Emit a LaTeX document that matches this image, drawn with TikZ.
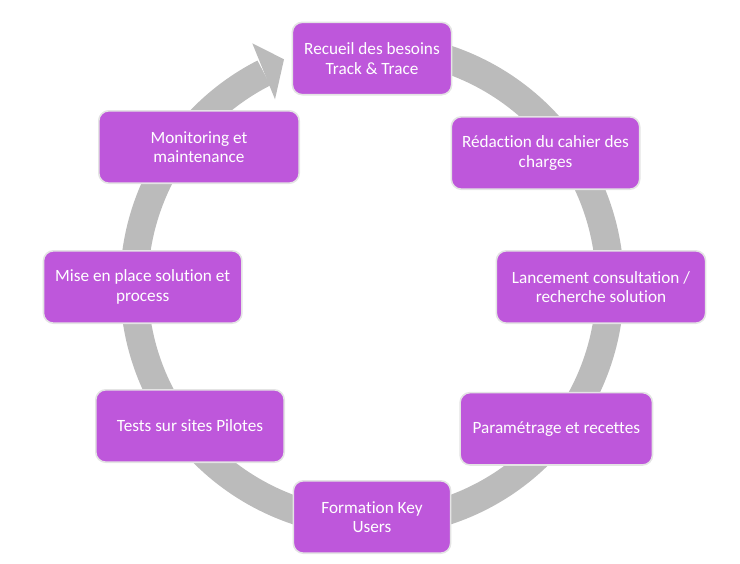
\documentclass[tikz,border=0pt]{standalone}
\usepackage{fontspec}
\setmainfont{Carlito}[Ligatures=CommonOff]
\definecolor{boxfill}{RGB}{190,87,219}
\definecolor{boxline}{RGB}{228,228,228}
\definecolor{ringgrey}{RGB}{187,187,187}
\begin{document}
\begin{tikzpicture}[x=0.75pt,y=-0.75pt,
  stepbox/.style={draw=boxline, line width=1.2pt, fill=boxfill, rounded corners=7.5pt,
    text=white, align=center, font=\fontsize{12.9pt}{14.6pt}\selectfont,
    inner sep=0pt, minimum height=54.3pt}]
\useasboundingbox (0,0) rectangle (740,564);
% circular arrow
\draw[ringgrey, line width=21pt] ([shift={(372,285)}]-100:238) arc[start angle=-100, end angle=243, radius=238];
\fill[ringgrey] (252.3,43.3) -- (284,59.3) -- (275,99.3) -- cycle;
% steps
\node[stepbox, minimum width=119.5pt] (n1) at (372,58.5) {Recueil des besoins\\Track \& Trace};
\node[stepbox, minimum width=141.3pt] (n2) at (545.5,153) {Rédaction du cahier des\\charges};
\node[stepbox, minimum width=157pt] (n3) at (601,287) {Lancement consultation /\\recherche solution};
\node[stepbox, minimum width=144.3pt] (n4) at (556.3,428.8) {Paramétrage et recettes};
\node[stepbox, minimum width=118pt] (n5) at (372,517) {Formation Key\\Users};
\node[stepbox, minimum width=141.3pt] (n6) at (190,426) {Tests sur sites Pilotes};
\node[stepbox, minimum width=148.8pt] (n7) at (142.7,287) {Mise en place solution et\\process};
\node[stepbox, minimum width=150.3pt] (n8) at (199,147) {Monitoring et\\maintenance};
\end{tikzpicture}
\end{document}
